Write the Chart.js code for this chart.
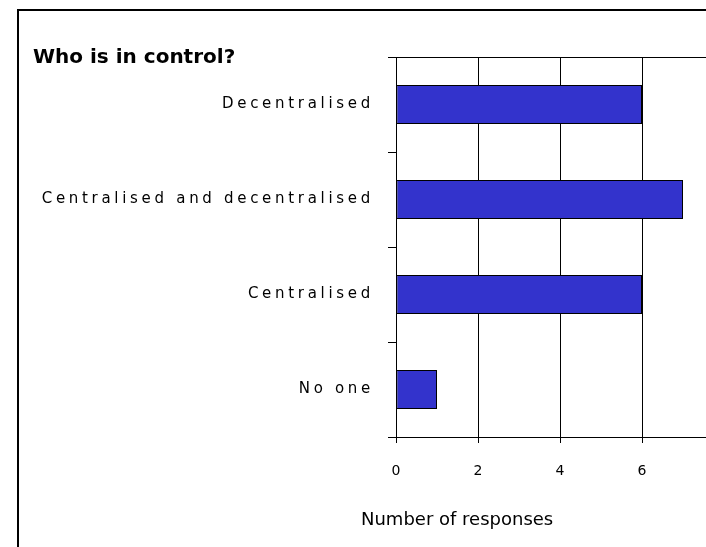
<!DOCTYPE html>
<html>
<head>
<meta charset="utf-8">
<script src="https://cdn.jsdelivr.net/npm/chart.js@4.4.1/dist/chart.umd.min.js"></script>
<style>
  html, body { margin: 0; padding: 0; background: #fff; width: 706px; height: 547px; overflow: hidden; }
  #frame { position: absolute; left: 17px; top: 9px; width: 760px; height: 600px;
           border-left: 2px solid #000; border-top: 2px solid #000; box-sizing: border-box; }
  #wrap { position: absolute; left: 0; top: 0; width: 760px; height: 547px; }
</style>
</head>
<body>
<div id="frame"></div>
<div id="wrap"><canvas id="c" width="760" height="547"></canvas></div>
<script>
// ---- data ----
const chartTitle = 'Who is in control?';
const categories = ['Decentralised', 'Centralised and decentralised', 'Centralised', 'No one'];
const responses = [6, 7, 6, 1];
const xTickValues = [0, 2, 4, 6, 8];
const xAxisTitle = 'Number of responses';

const FONT = "'DejaVu Sans', sans-serif";

const spacedYLabels = {
  id: 'spacedYLabels',
  afterLayout(chart) {
    const s = chart.scales.y;
    if (s && !s._spacedPatched) {
      const orig = s.drawLabels;
      s.drawLabels = function (area) {
        this.ctx.save();
        this.ctx.letterSpacing = '3.7px';
        orig.call(this, area);
        this.ctx.restore();
      };
      s._spacedPatched = true;
    }
  }
};

const xTitlePlugin = {
  id: 'xTitlePlugin',
  afterDraw(chart) {
    const ctx = chart.ctx;
    const a = chart.chartArea;
    ctx.save();
    ctx.font = '18px ' + FONT;
    ctx.fillStyle = '#000';
    ctx.textAlign = 'left';
    ctx.textBaseline = 'middle';
    ctx.fillText(xAxisTitle, a.left - 35, a.bottom + 83);
    ctx.restore();
  }
};

new Chart(document.getElementById('c'), {
  type: 'bar',
  data: {
    labels: categories,
    datasets: [{
      data: responses,
      backgroundColor: '#3333CC',
      borderColor: '#000',
      borderWidth: 1,
      borderSkipped: false,
      barPercentage: 0.5,
      categoryPercentage: 0.82
    }]
  },
  options: {
    indexAxis: 'y',
    responsive: false,
    animation: false,
    devicePixelRatio: 1,
    layout: { padding: { left: 33, right: 36, top: 0, bottom: 0 } },
    plugins: {
      legend: { display: false },
      tooltip: { enabled: false },
      title: {
        display: true,
        text: chartTitle,
        align: 'start',
        color: '#000',
        font: { family: FONT, size: 20, weight: 'bold' },
        padding: { top: 46, bottom: -13 }
      }
    },
    scales: {
      x: {
        type: 'linear',
        min: 0,
        max: 8,
        afterBuildTicks(scale) { scale.ticks = xTickValues.map(v => ({ value: v })); },
        afterFit(scale) { scale.height = 110; },
        ticks: { color: '#000', font: { family: FONT, size: 14 }, padding: 20 },
        grid: { color: '#000', lineWidth: 1, tickLength: 6, tickColor: '#000' },
        border: { display: true, color: '#000', width: 1 }
      },
      y: {
        type: 'category',
        offset: true,
        afterFit(scale) { scale.width = 363; },
        ticks: { color: '#000', font: { family: FONT, size: 15 }, padding: 14 },
        grid: {
          offset: true,
          color: (ctx) => (ctx.index === 0 || ctx.index === categories.length) ? '#000' : 'rgba(0,0,0,0)',
          tickColor: '#000',
          tickLength: 8,
          lineWidth: 1
        },
        border: { display: true, color: '#000', width: 1 }
      }
    }
  },
  plugins: [spacedYLabels, xTitlePlugin]
});
</script>
</body>
</html>
